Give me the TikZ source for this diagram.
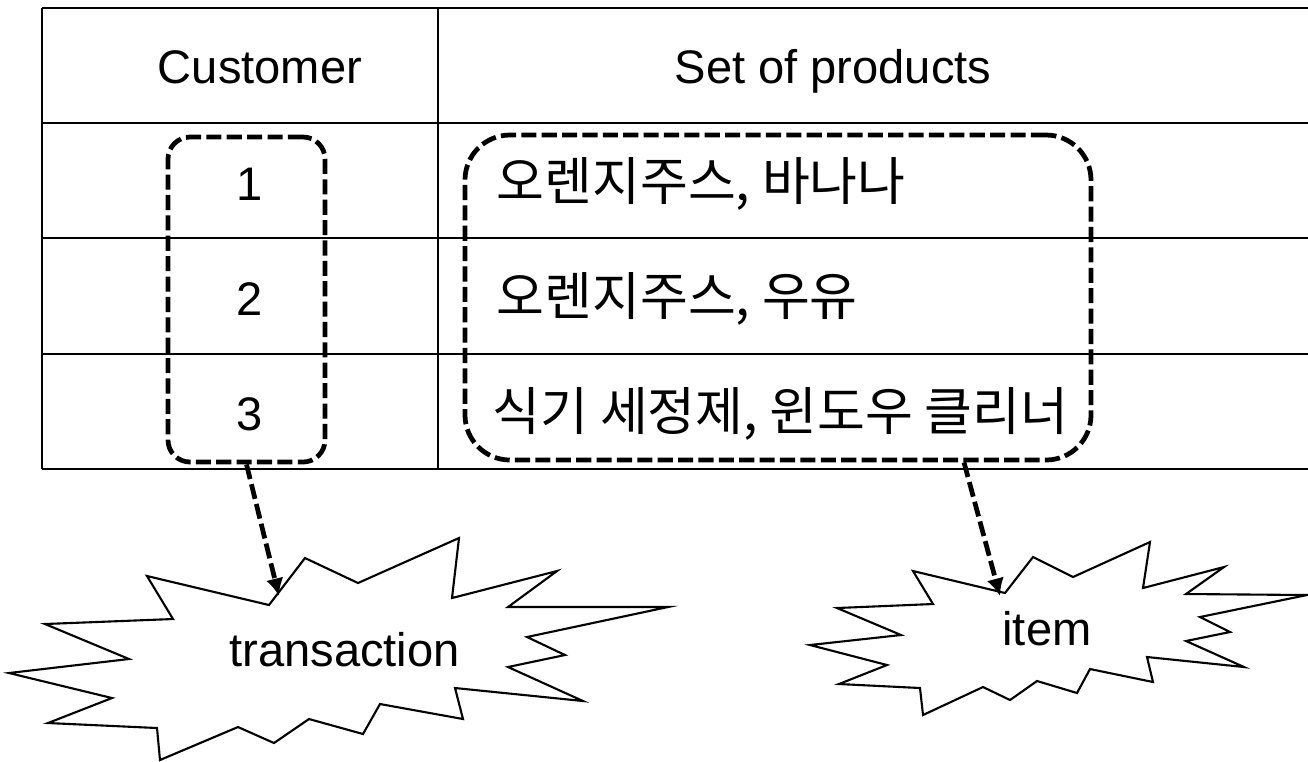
\documentclass[tikz,border=0pt]{standalone}
\usepackage{fontspec}
\setmainfont{Liberation Sans}
\newfontfamily\kofont{Noto Sans CJK KR}
\usetikzlibrary{arrows.meta}

\begin{document}
\begin{tikzpicture}[
    grid/.style={line width=0.6pt},
    groupbox/.style={draw, line width=1.35pt, dash pattern=on 4.3pt off 1.5pt, inner sep=0pt},
    pointer/.style={line width=1.35pt, dash pattern=on 4.3pt off 1.5pt, -{Latex[length=5pt,width=5pt]}},
    burst/.style={line width=0.6pt, line join=miter},
    cell/.style={anchor=base, inner sep=0pt, font=\fontsize{13.4pt}{16pt}\selectfont},
    kocell/.style={anchor=base west, inner sep=0pt, font=\kofont\fontsize{14.8pt}{17pt}\selectfont}
]

    \useasboundingbox (0,0) rectangle (13.08,-7.61);

    \def \xl {0.42}
    \def \xm {4.377}
    \def \xr {13.08}
    \def \ya {-0.08}
    \def \yb {-1.23}
    \def \yc {-2.38}
    \def \yd {-3.54}
    \def \ye {-4.69}

    % Table lines (open on the right)
    \draw[grid] (\xl,\ya) -- (\xr,\ya);
    \draw[grid] (\xl,\yb) -- (\xr,\yb);
    \draw[grid] (\xl,\yc) -- (\xr,\yc);
    \draw[grid] (\xl,\yd) -- (\xr,\yd);
    \draw[grid] (\xl,\ye) -- (\xr,\ye);
    \draw[grid] (\xl,\ya) -- (\xl,\ye);
    \draw[grid] (\xm,\ya) -- (\xm,\ye);

    % Header
    \node[cell] (cust) at (2.60,-0.83) {Customer};
    \node[cell] (prods) at (8.33,-0.83) {Set of products};

    % Rows
    \node[cell] (num1) at (2.50,-2.00) {1};
    \node[cell] (num2) at (2.50,-3.15) {2};
    \node[cell] (num3) at (2.50,-4.30) {3};
    \node[kocell] (items1) at (4.96,-2.00) {오렌지주스, 바나나};
    \node[kocell] (items2) at (4.96,-3.15) {오렌지주스, 우유};
    \node[kocell] (items3) at (4.92,-4.30) {식기 세정제, 윈도우 클리너};

    % Dashed groups
    \node[groupbox, rounded corners=0.22cm, minimum width=1.57cm, minimum height=3.25cm] (custbox) at (2.465,-2.995) {};
    \node[groupbox, rounded corners=0.45cm, minimum width=6.26cm, minimum height=3.25cm] (prodbox) at (7.78,-2.975) {};

    % Bursts
    \draw[burst] (2.69,-6.05) -- (3.05,-5.58) -- (3.58,-5.83) -- (4.59,-5.38) -- (4.52,-5.98) -- (5.57,-5.71) -- (5.08,-6.07) -- (6.68,-6.07) -- (5.27,-6.37) -- (5.65,-6.55) -- (5.08,-6.67) -- (5.83,-7.01) -- (4.55,-6.88) -- (4.63,-7.19) -- (3.80,-7.04) -- (3.63,-7.34) -- (3.09,-7.19) -- (2.74,-7.43) -- (2.38,-7.27) -- (1.60,-7.60) -- (1.57,-7.28) -- (0.48,-7.23) -- (1.12,-6.98) -- (0.09,-6.73) -- (1.29,-6.59) -- (0.45,-6.24) -- (1.73,-6.19) -- (1.47,-5.76) -- cycle;
    \node[cell] (trans) at (3.445,-6.667) {transaction};

    \draw[burst] (10.05,-5.93) -- (10.33,-5.57) -- (10.73,-5.77) -- (11.50,-5.42) -- (11.43,-5.88) -- (12.24,-5.67) -- (11.86,-5.94) -- (13.07,-5.95) -- (12.00,-6.17) -- (12.30,-6.32) -- (11.86,-6.41) -- (12.44,-6.67) -- (11.47,-6.57) -- (11.53,-6.82) -- (10.90,-6.69) -- (10.77,-6.93) -- (10.37,-6.81) -- (10.10,-7.00) -- (9.83,-6.87) -- (9.23,-7.15) -- (9.20,-6.88) -- (8.39,-6.84) -- (8.87,-6.65) -- (8.10,-6.45) -- (9.01,-6.35) -- (8.37,-6.08) -- (9.33,-6.04) -- (9.13,-5.71) -- cycle;
    \node[cell] (item) at (10.47,-6.45) {item};

    % Arrows into the bursts
    \coordinate (transtip) at (2.79,-5.96);
    \coordinate (itemtip) at (10.00,-5.96);
    \draw[pointer] (custbox.south) -- (transtip);
    \draw[pointer] ([xshift=1.86cm]prodbox.south) -- (itemtip);

\end{tikzpicture}
\end{document}
